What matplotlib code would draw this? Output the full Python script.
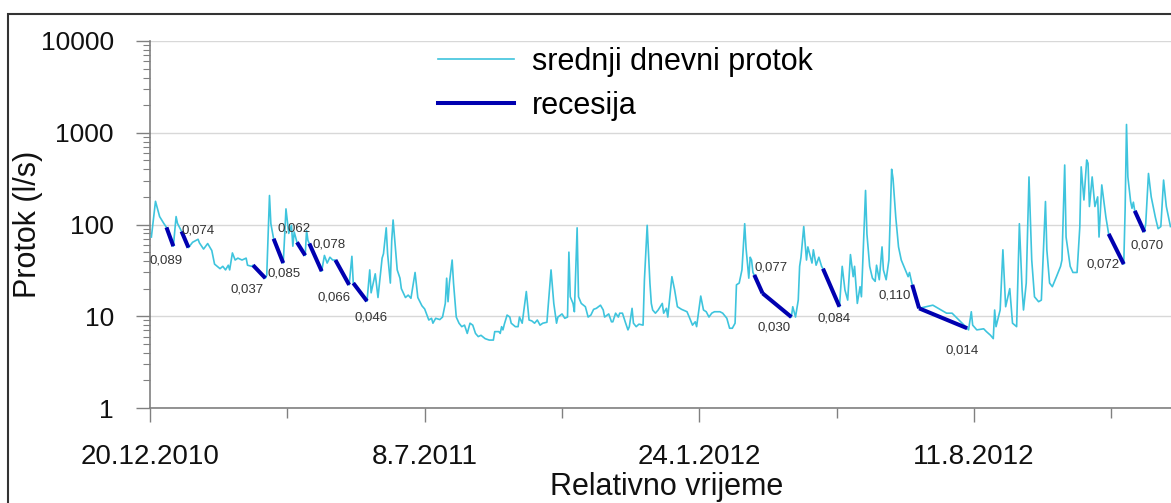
import numpy as np
import pandas as pd
import matplotlib
matplotlib.use("Agg")
import matplotlib.pyplot as plt
from matplotlib.lines import Line2D
from matplotlib.patches import Rectangle
from matplotlib.ticker import NullFormatter, LogLocator

plt.rcParams['font.family'] = ['Liberation Sans', 'DejaVu Sans']

# ---------------- data ----------------
start_date = '2010-12-20'
flow_day = [1, 4, 7, 10, 12, 17, 19, 20, 23, 28, 31, 35, 36, 39, 42, 45, 47, 51, 53, 55,
            57, 58, 60, 62, 64, 67, 70, 71, 74, 75, 84, 85, 87, 88, 90, 97, 98, 99, 101, 103,
            104, 105, 107, 113, 114, 115, 116, 125, 127, 129, 131, 133, 135, 145, 147, 148, 158, 160, 161, 164,
            166, 169, 170, 172, 173, 175, 176, 177, 178, 180, 182, 183, 186, 188, 190, 193, 195, 198, 200, 203,
            205, 206, 208, 211, 213, 215, 216, 217, 218, 220, 221, 223, 225, 227, 229, 231, 233, 235, 237, 239,
            241, 244, 247, 250, 251, 254, 255, 256, 257, 258, 260, 262, 263, 266, 268, 269, 271, 274, 276, 278,
            280, 282, 284, 286, 289, 292, 294, 296, 297, 300, 302, 304, 305, 306, 308, 309, 311, 312, 314, 317,
            319, 321, 323, 325, 328, 330, 331, 334, 336, 337, 339, 341, 342, 344, 346, 348, 349, 351, 352, 354,
            356, 359, 360, 362, 364, 365, 366, 368, 370, 373, 374, 376, 377, 380, 382, 384, 387, 391, 393, 395,
            397, 398, 401, 403, 405, 407, 409, 411, 415, 417, 420, 422, 424, 426, 427, 429, 431, 433, 434, 436,
            437, 438, 439, 440, 446, 467, 468, 470, 472, 473, 474, 476, 478, 479, 482, 483, 485, 487, 489, 490,
            502, 504, 506, 508, 510, 512, 513, 515, 517, 518, 521, 522, 524, 526, 528, 529, 531, 533, 534, 536,
            538, 540, 541, 543, 545, 547, 550, 552, 553, 555, 560, 570, 580, 584, 595, 596, 598, 599, 602, 607,
            609, 612, 614, 615, 616, 619, 621, 623, 626, 628, 631, 633, 635, 636, 638, 640, 642, 644, 647, 649,
            652, 653, 655, 657, 660, 663, 664, 666, 667, 670, 672, 675, 677, 678, 680, 682, 683, 684, 686, 688,
            690, 691, 693, 696, 698, 709, 710, 711, 712, 714, 715, 716, 717, 724, 725, 727, 729, 732, 734, 736,
            738, 740, 743]
flow_q = [73, 179, 122, 103, 93, 58, 122, 103, 84, 56, 64, 69, 63, 54, 62, 52, 37, 33, 35, 32,
          36, 32, 49, 41, 43, 41, 43, 36, 35, 36, 26, 28, 207, 102, 70, 38, 73, 148, 80, 98,
          58, 83, 64, 46, 86, 67, 62, 31, 46, 38, 44, 41, 41, 22, 45, 23, 14.6, 32, 18, 29,
          16, 43, 48, 92, 48, 23, 67, 112, 73, 32, 26, 20, 16, 17, 15.7, 30, 16, 13, 12, 9.1,
          9.5, 8.4, 9.5, 9.2, 9.8, 13.8, 26, 14.4, 23, 41, 23, 9.8, 8.4, 7.7, 8.0, 6.5, 8.4, 8.0, 6.5, 6.0,
          6.2, 5.7, 5.5, 5.5, 6.8, 6.8, 6.5, 7.7, 7.1, 8.2, 10.3, 9.8, 8.4, 7.7, 7.7, 9.8, 8.4, 18.6, 9.1, 8.9,
          8.4, 9.1, 8.0, 8.4, 8.6, 32, 13.8, 8.4, 9.8, 10.6, 9.5, 9.8, 50, 16.3, 13.8, 11.2, 92, 16.3, 13.8, 12.7,
          9.8, 10.3, 11.9, 12.2, 13.2, 11.7, 9.8, 10.6, 8.7, 8.7, 10.8, 9.8, 10.8, 10.8, 8.7, 7.1, 7.7, 12.2, 8.4, 7.7,
          8.2, 8.0, 25, 98, 23, 13.8, 11.7, 10.8, 11.7, 13.8, 10.8, 12.2, 9.8, 27, 19.3, 12.7, 11.9, 11.2, 9.5, 8.0,
          8.7, 7.7, 16.6, 11.7, 11.2, 9.8, 10.8, 11.2, 11.2, 10.8, 9.5, 7.4, 7.4, 8.4, 22, 23, 32, 102, 55, 26,
          44, 41, 30, 28, 17.8, 9.8, 12.7, 9.8, 15, 35, 44, 95, 41, 57, 38, 53, 36, 44, 35, 33,
          12.7, 35, 19.3, 15, 47, 27, 35, 13.8, 21, 16.3, 235, 79, 35, 26, 24, 36, 25, 57, 32, 25,
          41, 400, 318, 120, 57, 41, 32, 27, 30, 22, 12.2, 13.2, 10.8, 10.8, 7.4, 7.1, 11.2, 8.0, 7.1, 7.3,
          6.8, 6.2, 5.7, 11.7, 7.7, 11.7, 53, 12.7, 20, 8.4, 7.7, 102, 19.3, 11.7, 23, 330, 41, 16.3, 14.4, 15,
          178, 53, 23, 21, 27, 35, 41, 445, 73, 35, 30, 30, 94, 425, 185, 505, 465, 157, 330, 157,
          200, 73, 270, 120, 79, 37, 145, 1230, 330, 178, 150, 175, 141, 83, 102, 360, 200, 120, 90, 95,
          305, 157, 95]

rec_day_start = [12, 23, 75, 90, 107, 116, 135, 148, 440, 446, 490, 555, 560, 698, 717]
rec_q_start = [93, 84, 36, 70, 64, 62, 41, 23, 28.2, 17.8, 33, 22, 12.2, 79, 141]
rec_day_end = [17, 28, 84, 97, 113, 125, 145, 158, 446, 467, 502, 560, 595, 709, 724]
rec_q_end = [58, 56, 26, 38, 46, 31, 22, 14.6, 17.8, 9.8, 12.7, 12.2, 7.4, 37, 83]
rec_labels = ['0,089', '0,074', '0,037', '0,085', '0,062', '0,078', '0,066', '0,046',
              '0,077', '0,030', '0,084', '0,110', '0,014', '0,072', '0,070']

x_tick_labels = ['20.12.2010', '8.7.2011', '24.1.2012', '11.8.2012']
y_ticks = [1, 10, 100, 1000, 10000]
y_tick_labels = ['1', '10', '100', '1000', '10000']

# ---------------- styling (label placement, pixels) ----------------
label_at_end = [True, True, True, True, False, False, True, True,
                False, True, True, False, True, True, True]
label_offset = [(-7, -14), (10, 17), (-18, -11), (1, -10), (-3, 14), (20, -1), (-15, -13), (4, -16),
                (17, 7), (-17, -10), (-5, -12), (-18, -11), (-5, -22), (-21, 0), (3, -14)]

W, H = 1171, 503
fig = plt.figure(figsize=(W / 100, H / 100), dpi=100)
ax = fig.add_axes([150 / W, 95 / H, 1021 / W, 367 / H])

t0 = pd.Timestamp(start_date)
dates = t0 + pd.to_timedelta(flow_day, unit='D')
ax.plot(dates, flow_q, color='#3ec4dd', lw=1.2, zorder=3, solid_joinstyle='round')

for i in range(len(rec_labels)):
    d0 = t0 + pd.Timedelta(days=rec_day_start[i])
    d1 = t0 + pd.Timedelta(days=rec_day_end[i])
    ax.plot([d0, d1], [rec_q_start[i], rec_q_end[i]], color='#0000b0', lw=2.9,
            solid_capstyle='butt', zorder=4)
    anchor = (d1, rec_q_end[i]) if label_at_end[i] else (d0, rec_q_start[i])
    ax.annotate(rec_labels[i], xy=anchor, xytext=label_offset[i], textcoords='offset pixels',
                ha='center', va='center', fontsize=9.5, color='#333333', zorder=5)

ax.set_yscale('log')
ax.set_ylim(1, 10000)
ax.set_xlim(t0, t0 + pd.Timedelta(days=743.4))

major_dates = pd.to_datetime(x_tick_labels, format='%d.%m.%Y')
ax.set_xticks(major_dates)
ax.set_xticklabels(x_tick_labels)
minor_dates = major_dates + pd.Timedelta(days=100)
ax.set_xticks(minor_dates, minor=True)

ax.set_yticks(y_ticks)
ax.set_yticklabels(y_tick_labels)
ax.yaxis.set_minor_locator(LogLocator(base=10, subs=np.arange(2, 10)))
ax.yaxis.set_minor_formatter(NullFormatter())

ax.grid(True, axis='y', which='major', color='#d8d8d8', lw=1)
ax.set_axisbelow(True)
for s in ['top', 'right']:
    ax.spines[s].set_visible(False)
for s in ['left', 'bottom']:
    ax.spines[s].set_color('#808080')
    ax.spines[s].set_linewidth(1.2)

ax.tick_params(axis='y', which='major', length=10, width=1, color='#808080',
               labelsize=19, pad=16, labelcolor='#111111')
ax.tick_params(axis='y', which='minor', length=5, width=0.8, color='#808080')
ax.tick_params(axis='x', which='major', length=10, width=1, color='#808080',
               labelsize=20, pad=16, labelcolor='#111111')
ax.tick_params(axis='x', which='minor', length=7.5, width=1, color='#808080')

fig.text(28 / W, 1 - 224 / H, 'Protok (l/s)', rotation=90, ha='center', va='center',
         fontsize=22, color='#111111')
fig.text(667 / W, 1 - 487 / H, 'Relativno vrijeme', ha='center', va='center',
         fontsize=22, color='#111111')

handles = [Line2D([], [], color='#3ec4dd', lw=1.2), Line2D([], [], color='#0000b0', lw=2.9)]
ax.legend(handles, ['srednji dnevni protok', 'recesija'], loc='upper left',
          bbox_to_anchor=(438 / W, 1 - 47 / H), bbox_transform=fig.transFigure,
          frameon=False, fontsize=22, borderpad=0, borderaxespad=0,
          handlelength=2.48, handletextpad=0.59, labelspacing=0.46)

fig.patches.append(Rectangle((8 / W, -0.1), 1.2, 1.1 - 14 / H, transform=fig.transFigure,
                             fill=False, edgecolor='#333333', lw=1.5, zorder=10))

fig.savefig('out.png', dpi=100)
